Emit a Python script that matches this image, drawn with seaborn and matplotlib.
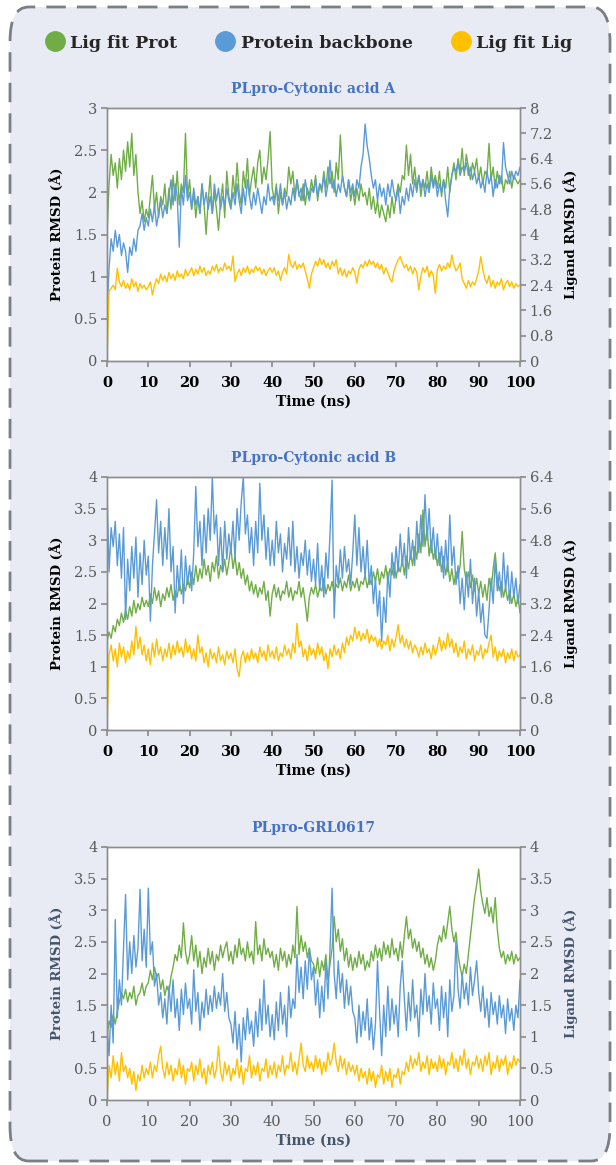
import numpy as np
import pandas as pd
import matplotlib
matplotlib.use("Agg")
import matplotlib.pyplot as plt
from matplotlib.patches import FancyBboxPatch
from matplotlib.lines import Line2D
from matplotlib.ticker import FuncFormatter
import seaborn as sns

# time axis, one frame every 0.5 ns
time_ns = np.linspace(0, 100, 201)

# ---- PLpro-Cytonic acid A ----
a_prot = [  # Protein backbone (left axis)
    0.55, 1.10, 1.45, 1.30, 1.55, 1.35, 1.50, 1.25, 1.40, 1.30, 1.05, 1.35, 1.25, 1.45, 1.30, 1.55, 1.60, 1.75, 1.55, 1.70,
    1.60, 1.80, 1.65, 1.85, 1.60, 1.75, 1.90, 1.70, 1.85, 1.75, 1.95, 2.15, 1.85, 2.10, 1.95, 1.35, 2.05, 1.85, 2.20, 1.90,
    2.00, 1.80, 2.05, 1.85, 1.95, 1.75, 2.10, 1.85, 2.00, 1.80, 1.95, 1.75, 2.10, 1.90, 2.05, 1.80, 1.95, 1.85, 2.05, 1.90,
    1.80, 2.00, 1.85, 2.10, 1.90, 1.75, 2.05, 1.85, 2.15, 1.95, 1.80, 2.00, 1.85, 2.05, 1.90, 1.75, 1.95, 1.85, 2.10, 1.90,
    1.95, 1.85, 2.05, 1.90, 2.10, 1.85, 2.00, 1.80, 1.95, 1.85, 2.05, 1.90, 2.15, 1.95, 2.05, 1.90, 2.15, 2.00, 1.90, 2.05,
    2.00, 2.15, 1.95, 2.10, 2.05, 2.20, 1.95, 2.10, 2.38, 2.05, 2.15, 1.95, 2.10, 2.00, 2.20, 2.05, 1.95, 2.15, 2.00, 2.10,
    1.95, 2.15, 2.05, 2.30, 2.45, 2.81, 2.55, 2.40, 2.20, 2.05, 2.15, 1.90, 2.10, 1.95, 2.05, 1.85, 2.10, 1.95, 2.15, 2.00,
    1.90, 2.05, 1.75, 1.95, 1.85, 2.05, 1.90, 2.10, 1.95, 2.15, 2.00, 2.20, 2.05, 2.15, 1.95, 2.10, 2.00, 2.20, 2.05, 2.15,
    1.95, 2.10, 2.00, 2.15, 1.90, 1.71, 2.05, 2.20, 2.30, 2.25, 2.35, 2.20, 2.30, 2.25, 2.35, 2.20, 2.30, 2.15, 2.25, 2.10,
    2.20, 2.05, 2.15, 2.00, 2.25, 2.10, 2.20, 1.95, 2.15, 2.05, 2.20, 2.10, 2.59, 2.30, 2.20, 2.10, 2.25, 2.15, 2.25, 2.20,
    2.30]
a_ligprot = [  # Lig fit Prot (left axis)
    1.50, 2.10, 2.45, 2.20, 2.35, 2.05, 2.40, 2.15, 2.50, 2.25, 2.60, 2.30, 2.70, 2.20, 2.45, 2.00, 1.75, 1.90, 1.65, 1.80,
    1.70, 1.95, 2.20, 1.80, 2.00, 1.70, 1.95, 1.85, 2.10, 1.75, 2.05, 1.80, 2.20, 1.90, 2.25, 1.85, 2.10, 2.00, 2.70, 1.95,
    2.15, 1.80, 2.00, 1.70, 1.95, 1.75, 2.10, 1.85, 1.50, 1.90, 2.20, 1.75, 2.00, 1.80, 1.55, 1.90, 2.10, 1.70, 2.25, 1.95,
    1.85, 2.20, 1.95, 2.35, 2.00, 1.85, 2.25, 2.05, 2.40, 1.95, 2.15, 2.30, 2.05, 2.35, 2.50, 2.10, 2.30, 2.15, 2.40, 2.72,
    2.05, 1.90, 2.10, 1.75, 2.00, 1.85, 2.05, 1.95, 2.30, 2.10, 2.25, 1.95, 2.15, 2.00, 1.90, 2.10, 1.85, 2.05, 1.95, 2.15,
    2.00, 2.20, 1.90, 2.10, 2.00, 2.25, 2.05, 2.30, 2.10, 2.25, 2.00, 2.35, 2.15, 2.68, 2.20, 2.05, 1.95, 2.15, 1.90, 2.05,
    1.85, 2.05, 1.90, 2.10, 1.95, 2.00, 1.85, 2.05, 1.80, 1.95, 1.75, 1.90, 1.70, 1.85, 1.75, 1.65, 1.85, 1.70, 1.95, 1.75,
    1.95, 2.10, 2.00, 2.20, 2.15, 2.56, 2.20, 2.45, 2.10, 2.30, 2.05, 2.20, 1.95, 2.15, 2.05, 2.25, 2.00, 2.30, 2.10, 2.20,
    2.05, 2.25, 1.95, 2.15, 2.05, 2.30, 2.00, 2.20, 2.35, 2.15, 2.40, 2.25, 2.52, 2.20, 2.45, 2.30, 2.15, 2.35, 2.25, 2.40,
    2.15, 2.30, 2.10, 2.25, 2.20, 2.58, 2.15, 2.30, 2.05, 2.25, 2.10, 2.20, 2.00, 2.15, 2.10, 2.25, 2.05, 2.20, 2.15, 2.10,
    2.15]
a_liglig = [  # Lig fit Lig (right axis)
    0.00, 2.20, 2.30, 2.40, 2.25, 2.93, 2.50, 2.35, 2.55, 2.30, 2.45, 2.25, 2.60, 2.35, 2.50, 2.20, 2.45, 2.30, 2.40, 2.25,
    2.35, 2.50, 2.09, 2.40, 2.60, 2.45, 2.75, 2.55, 2.70, 2.50, 2.80, 2.60, 2.75, 2.55, 2.85, 2.65, 2.75, 2.60, 2.90, 2.70,
    2.80, 2.95, 2.70, 2.90, 2.75, 3.00, 2.80, 2.95, 2.70, 2.85, 2.75, 3.00, 2.85, 3.05, 2.80, 2.95, 2.85, 3.10, 2.90, 3.00,
    2.85, 3.32, 2.51, 2.75, 2.90, 2.70, 2.95, 2.80, 3.00, 2.75, 2.90, 2.80, 3.00, 2.85, 2.95, 2.75, 2.90, 2.70, 2.85, 2.95,
    2.80, 2.95, 2.70, 2.85, 2.55, 2.80, 2.95, 2.75, 3.37, 3.05, 2.95, 3.15, 2.90, 3.05, 2.95, 3.10, 2.85, 2.60, 2.30, 2.75,
    2.95, 3.15, 3.00, 3.25, 3.05, 3.20, 2.95, 3.10, 2.90, 3.15, 3.00, 3.20, 2.75, 2.95, 2.70, 2.90, 2.65, 2.85, 2.75, 2.95,
    2.80, 2.46, 2.90, 3.05, 2.95, 3.15, 3.00, 3.20, 3.05, 3.15, 2.95, 3.10, 2.90, 3.05, 2.75, 2.95, 2.80, 2.60, 2.50, 2.85,
    3.05, 3.20, 3.30, 3.10, 2.95, 3.05, 2.85, 3.00, 2.75, 2.95, 2.80, 2.25, 2.70, 2.95, 2.80, 3.00, 2.65, 2.85, 2.70, 2.14,
    2.90, 3.05, 2.85, 3.00, 2.90, 3.10, 2.95, 3.35, 3.05, 2.85, 2.95, 3.10, 2.60, 2.45, 2.30, 2.55, 2.35, 2.50, 2.40, 2.60,
    2.85, 3.30, 2.90, 2.60, 2.45, 2.70, 2.35, 2.55, 2.30, 2.50, 2.40, 2.60, 2.25, 2.45, 2.55, 2.35, 2.50, 2.30, 2.45, 2.35,
    2.40]

# ---- PLpro-Cytonic acid B ----
b_prot = [
    3.80, 2.50, 3.20, 2.90, 3.30, 2.60, 3.10, 2.40, 3.20, 1.75, 2.70, 2.20, 2.90, 2.40, 3.05, 2.10, 2.80, 2.30, 3.00, 2.45,
    2.75, 1.72, 2.60, 3.10, 3.64, 2.80, 3.30, 2.60, 3.20, 2.70, 3.50, 2.50, 2.90, 1.85, 2.60, 2.20, 2.85, 2.00, 2.75, 2.30,
    2.60, 2.20, 2.80, 3.85, 2.90, 3.30, 2.60, 3.40, 2.80, 3.50, 3.00, 4.00, 3.10, 3.40, 2.60, 3.20, 2.50, 3.30, 2.70, 3.10,
    2.80, 3.30, 2.70, 3.50, 3.00, 3.60, 4.00, 3.10, 3.40, 2.80, 3.20, 2.60, 3.30, 2.80, 3.90, 3.00, 3.40, 2.70, 3.20, 2.60,
    3.00, 2.60, 3.30, 2.80, 3.10, 2.50, 2.95, 2.70, 3.20, 2.60, 3.30, 2.50, 2.90, 2.40, 2.80, 2.60, 3.00, 2.45, 2.85, 2.35,
    2.70, 2.30, 2.95, 2.20, 2.60, 2.10, 2.80, 2.40, 3.10, 3.95, 1.77, 2.60, 2.30, 2.85, 2.40, 2.90, 2.50, 2.70, 2.30, 2.80,
    3.40, 2.60, 3.20, 2.50, 2.90, 2.40, 3.00, 2.30, 2.60, 2.00, 2.40, 1.80, 2.20, 1.40, 2.10, 1.70, 2.50, 2.10, 2.80, 2.40,
    2.90, 2.50, 3.10, 2.60, 2.95, 2.40, 3.20, 2.70, 3.00, 2.60, 3.30, 2.80, 3.40, 2.90, 3.72, 3.00, 3.50, 2.80, 3.20, 2.70,
    3.10, 2.60, 2.90, 2.40, 3.00, 2.50, 3.40, 2.60, 2.90, 2.30, 2.60, 2.00, 2.40, 1.90, 2.50, 2.10, 2.70, 2.00, 2.40, 1.80,
    2.20, 1.70, 2.00, 1.50, 1.45, 1.90, 2.40, 2.00, 2.70, 2.20, 2.50, 2.10, 2.80, 2.20, 2.60, 2.00, 2.50, 2.10, 2.40, 2.00,
    2.30]
b_ligprot = [
    1.40, 1.55, 1.45, 1.65, 1.55, 1.75, 1.65, 1.85, 1.70, 1.90, 1.75, 1.95, 1.80, 2.05, 1.85, 2.00, 1.90, 2.10, 1.95, 2.05,
    1.95, 2.15, 2.00, 2.25, 2.05, 2.20, 1.95, 2.15, 2.05, 2.25, 2.10, 2.30, 2.05, 2.20, 2.10, 2.35, 2.15, 2.30, 2.20, 2.40,
    2.25, 2.50, 2.30, 2.60, 2.35, 2.55, 2.40, 2.70, 2.45, 2.60, 2.35, 2.65, 2.50, 2.75, 2.40, 2.60, 2.50, 2.70, 2.45, 2.65,
    2.90, 2.55, 2.75, 2.45, 2.65, 2.40, 2.55, 2.30, 2.45, 2.20, 2.35, 2.15, 2.30, 2.10, 2.25, 2.15, 2.35, 2.05, 2.20, 1.80,
    2.15, 2.30, 2.10, 2.25, 2.05, 2.20, 2.15, 2.35, 2.10, 2.25, 2.05, 2.20, 2.15, 2.35, 2.10, 2.25, 2.00, 1.72, 2.10, 2.25,
    2.15, 2.30, 2.10, 2.25, 2.20, 2.40, 2.15, 2.30, 2.20, 2.35, 2.15, 2.30, 2.25, 2.40, 2.20, 2.35, 2.25, 2.45, 2.20, 2.35,
    2.25, 2.40, 2.20, 2.35, 2.30, 2.45, 2.25, 2.40, 2.30, 2.50, 2.35, 2.55, 2.30, 2.50, 2.40, 2.60, 2.35, 2.55, 2.45, 2.65,
    2.40, 2.60, 2.50, 2.70, 2.45, 2.75, 2.55, 2.80, 2.60, 2.90, 2.70, 3.10, 2.80, 3.48, 2.90, 3.20, 2.75, 3.00, 2.70, 2.85,
    2.60, 2.80, 2.50, 2.75, 2.45, 2.65, 2.35, 2.55, 2.30, 2.50, 2.40, 2.60, 3.14, 2.55, 2.35, 2.50, 2.25, 2.45, 2.20, 2.40,
    2.15, 2.35, 2.10, 2.30, 2.05, 2.40, 2.20, 2.55, 2.80, 2.40, 2.20, 2.35, 2.10, 2.25, 2.05, 2.20, 2.00, 2.15, 1.95, 2.10,
    1.85]
b_liglig = [
    0.00, 1.90, 2.15, 1.75, 2.05, 1.60, 2.20, 1.85, 2.10, 1.70, 2.00, 1.80, 2.25, 1.90, 2.62, 2.05, 2.35, 1.90, 2.15, 1.75,
    2.05, 1.65, 2.20, 1.85, 2.30, 1.90, 2.10, 1.75, 2.05, 1.85, 2.20, 1.80, 2.15, 1.90, 2.25, 1.95, 2.10, 1.85, 2.30, 1.95,
    2.15, 1.80, 2.05, 1.75, 2.40, 1.95, 2.10, 1.70, 1.95, 1.60, 2.05, 1.80, 1.95, 1.70, 2.10, 1.75, 1.90, 1.65, 2.00, 1.80,
    1.95, 1.70, 2.05, 1.55, 1.35, 1.85, 2.00, 1.70, 1.95, 1.75, 2.05, 1.80, 1.95, 1.70, 2.10, 1.85, 2.00, 1.75, 2.15, 1.85,
    2.00, 1.80, 2.10, 1.75, 1.95, 1.85, 2.15, 1.90, 2.05, 1.80, 2.20, 1.95, 2.70, 2.10, 2.25, 1.85, 2.05, 1.75, 2.15, 1.90,
    2.05, 1.80, 2.20, 1.90, 2.10, 1.75, 1.95, 1.55, 2.05, 1.85, 2.15, 1.90, 2.05, 1.80, 2.20, 1.95, 2.35, 2.15, 2.40, 2.25,
    2.60, 2.30, 2.50, 2.25, 2.45, 2.30, 2.55, 2.20, 2.40, 2.25, 2.35, 2.10, 2.30, 2.05, 2.25, 2.15, 2.40, 2.00, 2.30, 2.10,
    2.35, 2.66, 2.20, 2.40, 2.10, 2.30, 2.05, 2.25, 1.95, 2.15, 2.05, 1.85, 2.10, 1.90, 2.20, 1.95, 2.05, 1.80, 2.15, 1.90,
    2.10, 2.35, 2.00, 2.25, 2.05, 2.45, 2.10, 2.30, 1.95, 2.20, 1.85, 2.10, 1.95, 2.25, 1.80, 2.05, 1.90, 2.15, 1.75, 2.00,
    1.90, 2.15, 1.80, 2.05, 1.95, 2.20, 2.40, 1.85, 2.10, 1.75, 2.00, 1.85, 2.05, 1.70, 1.95, 1.80, 2.05, 1.75, 2.00, 1.85,
    1.90]

# ---- PLpro-GRL0617 ----
c_prot = [
    1.20, 0.70, 1.50, 0.90, 2.85, 1.30, 1.90, 1.50, 2.40, 3.25, 1.90, 2.50, 2.00, 2.60, 2.10, 2.40, 3.33, 2.20, 2.70, 2.10,
    3.35, 2.30, 2.50, 1.80, 2.00, 1.50, 1.70, 1.30, 1.60, 1.20, 1.80, 1.40, 1.90, 1.30, 1.60, 1.10, 1.75, 1.35, 1.85, 1.45,
    1.60, 1.20, 2.06, 1.40, 1.70, 1.10, 1.55, 1.30, 1.75, 1.35, 1.65, 1.40, 1.80, 1.45, 1.70, 1.50, 2.00, 1.40, 1.70, 1.30,
    1.20, 0.90, 1.40, 0.80, 1.20, 0.60, 1.30, 0.95, 1.45, 1.05, 1.25, 0.85, 1.40, 1.00, 1.60, 1.10, 1.90, 1.20, 1.50, 1.00,
    1.35, 0.95, 1.55, 1.10, 1.70, 1.20, 1.50, 1.00, 1.80, 1.30, 1.60, 1.45, 2.30, 1.70, 2.10, 1.60, 2.20, 1.75, 2.40, 1.90,
    2.10, 1.50, 1.90, 1.30, 1.80, 1.40, 2.20, 1.60, 2.40, 3.35, 2.00, 1.60, 2.20, 1.70, 2.00, 1.45, 1.90, 1.50, 1.80, 1.40,
    1.30, 0.90, 1.50, 1.00, 1.40, 1.10, 1.60, 0.95, 1.30, 0.80, 1.20, 2.20, 1.40, 0.70, 1.50, 1.00, 1.80, 1.10, 1.60, 1.20,
    1.50, 1.00, 1.80, 2.20, 1.60, 1.10, 1.70, 1.25, 1.90, 1.30, 1.50, 1.00, 1.75, 1.35, 2.00, 1.40, 1.65, 1.20, 1.85, 1.45,
    1.60, 1.10, 1.80, 1.30, 1.70, 1.00, 1.90, 1.40, 1.65, 2.53, 1.75, 1.45, 2.00, 1.60, 1.85, 1.50, 2.10, 1.65, 1.90, 2.20,
    1.70, 1.40, 1.80, 1.30, 1.60, 1.15, 1.70, 1.35, 1.55, 1.20, 1.65, 1.30, 1.50, 1.05, 1.60, 1.25, 1.45, 1.10, 1.50, 1.30,
    1.90]
c_ligprot = [
    1.00, 1.25, 1.15, 1.35, 1.20, 1.40, 1.55, 1.70, 1.60, 1.75, 1.55, 1.70, 1.60, 1.80, 1.50, 1.65, 1.70, 1.85, 1.65, 1.80,
    1.85, 2.05, 1.90, 2.10, 1.95, 2.00, 1.75, 1.90, 1.65, 1.80, 1.70, 1.95, 2.10, 2.30, 2.20, 2.45, 2.25, 2.80, 2.35, 2.15,
    2.30, 2.60, 2.20, 2.45, 2.10, 2.35, 2.00, 2.25, 2.10, 2.40, 2.15, 2.35, 2.05, 2.30, 2.20, 2.45, 2.25, 2.40, 2.50, 2.20,
    2.35, 2.15, 2.45, 2.25, 2.55, 2.30, 2.40, 2.20, 2.50, 2.25, 2.35, 2.15, 2.82, 2.30, 2.45, 2.20, 2.55, 2.30, 2.40, 2.25,
    2.35, 2.10, 2.30, 2.05, 2.40, 2.20, 2.35, 2.10, 2.30, 2.15, 2.45, 2.25, 3.06, 2.30, 2.60, 2.35, 2.50, 2.25, 2.40, 2.20,
    2.15, 2.00, 2.25, 1.95, 2.20, 2.05, 2.30, 1.90, 2.15, 2.40, 2.90, 2.50, 2.70, 2.35, 2.55, 2.20, 2.40, 2.10, 2.30, 2.05,
    2.25, 2.10, 2.35, 2.15, 2.30, 2.05, 2.20, 2.10, 2.35, 2.20, 2.45, 2.25, 2.40, 2.20, 2.50, 2.30, 2.45, 2.25, 2.55, 2.30,
    2.40, 2.20, 2.50, 2.25, 2.60, 2.90, 2.55, 2.70, 2.40, 2.55, 2.35, 2.50, 2.25, 2.40, 2.15, 2.30, 2.10, 2.25, 2.05, 2.20,
    2.45, 2.60, 2.50, 2.75, 2.55, 2.80, 3.06, 2.70, 2.50, 2.65, 2.30, 2.10, 1.95, 2.15, 2.00, 2.30, 2.60, 2.90, 3.20, 3.40,
    3.65, 3.30, 3.10, 2.95, 3.20, 2.90, 3.05, 2.80, 3.20, 2.70, 2.40, 2.25, 2.35, 2.15, 2.30, 2.20, 2.35, 2.15, 2.30, 2.20,
    2.25]
c_liglig = [
    0.00, 0.55, 0.35, 0.70, 0.40, 0.60, 0.30, 0.75, 0.45, 0.55, 0.35, 0.50, 0.25, 0.45, 0.15, 0.40, 0.30, 0.55, 0.35, 0.50,
    0.40, 0.60, 0.35, 0.55, 0.45, 0.70, 0.85, 0.50, 0.35, 0.60, 0.40, 0.55, 0.30, 0.50, 0.40, 0.65, 0.35, 0.55, 0.25, 0.50,
    0.45, 0.60, 0.30, 0.55, 0.40, 0.65, 0.35, 0.50, 0.25, 0.55, 0.40, 0.60, 0.35, 0.50, 0.85, 0.45, 0.30, 0.60, 0.40, 0.55,
    0.30, 0.50, 0.40, 0.65, 0.35, 0.55, 0.25, 0.50, 0.45, 0.70, 0.35, 0.55, 0.40, 0.60, 0.30, 0.50, 0.45, 0.65, 0.35, 0.55,
    0.40, 0.60, 0.35, 0.55, 0.45, 0.70, 0.40, 0.55, 0.50, 0.75, 0.45, 0.60, 0.40, 0.65, 0.90, 0.55, 0.45, 0.70, 0.50, 0.60,
    0.45, 0.70, 0.50, 0.65, 0.40, 0.60, 0.45, 0.75, 0.55, 0.65, 0.90, 0.60, 0.45, 0.70, 0.50, 0.65, 0.40, 0.60, 0.45, 0.55,
    0.40, 0.55, 0.30, 0.50, 0.35, 0.45, 0.25, 0.50, 0.30, 0.45, 0.20, 0.40, 0.35, 0.55, 0.25, 0.45, 0.30, 0.50, 0.20, 0.40,
    0.35, 0.50, 0.25, 0.45, 0.40, 0.60, 0.45, 0.70, 0.50, 0.65, 0.55, 0.75, 0.45, 0.60, 0.50, 0.70, 0.40, 0.65, 0.50, 0.60,
    0.45, 0.70, 0.50, 0.65, 0.40, 0.60, 0.55, 0.75, 0.50, 0.65, 0.45, 0.70, 0.55, 0.80, 0.50, 0.65, 0.40, 0.60, 0.55, 0.70,
    0.50, 0.65, 0.45, 0.70, 0.55, 0.75, 0.40, 0.60, 0.50, 0.70, 0.45, 0.65, 0.55, 0.70, 0.40, 0.60, 0.50, 0.70, 0.55, 0.65,
    0.60]

titles = ["PLpro-Cytonic acid A", "PLpro-Cytonic acid B", "PLpro-GRL0617"]
left_ticks = [np.arange(0, 3.01, 0.5), np.arange(0, 4.01, 0.5), np.arange(0, 4.01, 0.5)]
right_ticks = [np.arange(0, 8.01, 0.8), np.arange(0, 6.41, 0.8), np.arange(0, 4.01, 0.5)]
series_names = ["Lig fit Prot", "Protein backbone", "Lig fit Lig"]

GREEN = "#70AD47"
BLUE = "#5B9BD5"
YELLOW = "#FFC000"
TITLE_BLUE = "#4472C4"
SPINE = "#8C8C8C"
TICK_GRAY = "#595959"
SLATE = "#44546A"

sns.set_theme(style="white")
plt.rcParams["font.family"] = ["DejaVu Serif"]

W, H = 616, 1165
fig = plt.figure(figsize=(W / 100, H / 100), dpi=100)
fig.patch.set_facecolor("white")

# rounded dashed panel behind everything
box = FancyBboxPatch((10 / W, 4 / H), 600 / W, 1154 / H,
                     boxstyle="round,pad=0,rounding_size=0.03",
                     transform=fig.transFigure, facecolor="#E8EBF3",
                     edgecolor="#7A7F84", linewidth=2.0, linestyle=(0, (7, 4)),
                     zorder=-10)
fig.patches.append(box)

panels = [
    (a_ligprot, a_prot, a_liglig),
    (b_ligprot, b_prot, b_liglig),
    (c_ligprot, c_prot, c_liglig),
]
bottoms_px = [361, 730, 1100]
ax_left, ax_w, ax_h = 107 / W, 413 / W, 253 / H

fmt = FuncFormatter(lambda v, p: f"{v:g}")

for i, (lp, pr, ll) in enumerate(panels):
    ax = fig.add_axes([ax_left, 1 - bottoms_px[i] / H, ax_w, ax_h])
    ax.set_facecolor("white")
    df = pd.DataFrame({"time": time_ns, "ligprot": lp, "prot": pr, "liglig": ll})
    sns.lineplot(data=df, x="time", y="ligprot", ax=ax, color=GREEN, lw=1.0)
    sns.lineplot(data=df, x="time", y="prot", ax=ax, color=BLUE, lw=1.0)
    ax2 = ax.twinx()
    sns.lineplot(data=df, x="time", y="liglig", ax=ax2, color=YELLOW, lw=1.0)

    ax.set_xlim(0, 100)
    ax.set_xticks(np.arange(0, 101, 10))
    ax.set_ylim(left_ticks[i][0], left_ticks[i][-1])
    ax.set_yticks(left_ticks[i])
    ax2.set_ylim(right_ticks[i][0], right_ticks[i][-1])
    ax2.set_yticks(right_ticks[i])
    ax.yaxis.set_major_formatter(fmt)
    ax2.yaxis.set_major_formatter(fmt)

    last = i == 2
    lab_col = SLATE if last else "black"
    xt_col = TICK_GRAY if last else "black"
    xt_w = "normal" if last else "bold"

    ax.set_xlabel("Time (ns)", fontsize=10, fontweight="bold", color=lab_col, labelpad=3)
    ax.set_ylabel("Protein RMSD (Å)", fontsize=9.5, fontweight="bold", color=lab_col, labelpad=7)
    ax2.set_ylabel("Ligand RMSD (Å)", fontsize=9.5, fontweight="bold", color=lab_col, labelpad=7)
    ax.set_title(titles[i], fontsize=10, fontweight="bold", color=TITLE_BLUE, pad=11)

    for a in (ax, ax2):
        for s in a.spines.values():
            s.set_color(SPINE)
            s.set_linewidth(1.0)
    ax.tick_params(axis="x", direction="out", length=4, color=SPINE, labelsize=10.5,
                   labelcolor=xt_col, bottom=True, pad=7)
    for t in ax.get_xticklabels():
        t.set_fontweight(xt_w)
    ax.tick_params(axis="y", direction="out", length=4, color=SPINE, labelsize=10.5,
                   labelcolor=TICK_GRAY, left=True, pad=3)
    ax2.tick_params(axis="y", direction="out", length=4, color=SPINE, labelsize=10.5,
                    labelcolor=TICK_GRAY, right=True, pad=3)

handles = [Line2D([0], [0], marker="o", color="none", markerfacecolor=c,
                  markeredgecolor=c, markersize=14) for c in (GREEN, BLUE, YELLOW)]
leg = fig.legend(handles, series_names, loc="center", bbox_to_anchor=(0.502, 1 - 43 / H),
                 ncol=3, frameon=False, handlelength=1.0, handletextpad=0.4,
                 columnspacing=2.25, prop={"weight": "bold", "size": 12.5})

fig.savefig("out.png", dpi=100, facecolor=fig.get_facecolor())
